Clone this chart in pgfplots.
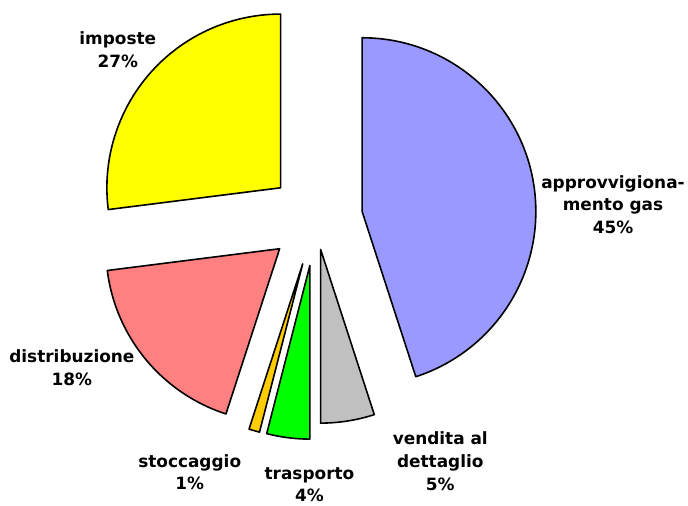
\documentclass[border=0pt]{standalone}
\usepackage{fontspec}
\setmainfont{DejaVu Sans}
\usepackage{pgfplots}
\pgfplotsset{compat=1.18}
\definecolor{cApprov}{HTML}{9999FF}
\definecolor{cVend}{HTML}{C0C0C0}
\definecolor{cTrasp}{HTML}{00FF00}
\definecolor{cStocc}{HTML}{FFCC00}
\definecolor{cDistr}{HTML}{FF8080}
\definecolor{cImp}{HTML}{FFFF00}

\begin{document}
\begin{tikzpicture}[lbl/.style={align=center, font=\bfseries\fontsize{17}{23}\selectfont}]
\begin{axis}[
    width=688bp, height=506bp, scale only axis,
    xmin=0, xmax=688, ymin=0, ymax=506,
    hide axis, clip=false,
]
% share (%) / explode (px) / colour, clockwise from 12 o'clock
\gdef\acc{0}
\foreach \pct/\ex/\col in {45/47/cApprov, 5/31/cVend, 4/47/cTrasp,
                           1/47/cStocc, 18/47/cDistr, 27/47/cImp}{
  \pgfmathsetmacro{\aS}{90-3.6*\acc}
  \pgfmathsetmacro{\aE}{90-3.6*(\acc+\pct)}
  \pgfmathsetmacro{\aM}{(\aS+\aE)/2}
  \pgfmathsetmacro{\cx}{316.3+\ex*cos(\aM)}
  \pgfmathsetmacro{\cy}{286.8+\ex*sin(\aM)}
  \edef\slice{\noexpand\filldraw[fill=\col, draw=black, line width=1.6bp, line join=round]
    (axis cs:\cx,\cy) -- ++(\aS:174bp) arc[start angle=\aS, end angle=\aE, radius=174bp] -- cycle;}
  \slice
  \pgfmathsetmacro{\newacc}{\acc+\pct}
  \xdef\acc{\newacc}
}
\node[lbl] at (axis cs:614,301) {approvvigiona-\\mento gas\\45\%};
\node[lbl] at (axis cs:441,44) {vendita al\\dettaglio\\5\%};
\node[lbl] at (axis cs:310,20.5) {trasporto\\4\%};
\node[lbl] at (axis cs:190,33) {stoccaggio\\1\%};
\node[lbl] at (axis cs:72,138) {distribuzione\\18\%};
\node[lbl] at (axis cs:118,456) {imposte\\27\%};
\end{axis}
\path (0,0) rectangle (688bp,506bp);
\end{tikzpicture}
\end{document}
